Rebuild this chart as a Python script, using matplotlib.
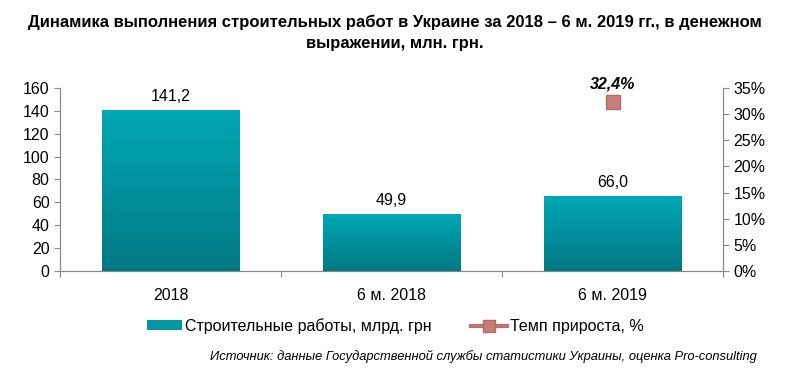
import matplotlib.pyplot as plt
import numpy as np
from matplotlib.patches import Patch
from matplotlib.lines import Line2D
from matplotlib.colors import LinearSegmentedColormap

plt.rcParams['font.family'] = ['Liberation Sans', 'DejaVu Sans']

categories = ['2018', '6 м. 2018', '6 м. 2019']
works = [141.2, 49.9, 66.0]
growth = [None, None, 32.4]

fig = plt.figure(figsize=(7.9, 3.71), dpi=100)
ax = fig.add_axes([60/790, 1-271/371, 663/790, 183/371])
ax2 = ax.twinx()

x = np.arange(len(categories))
bars = ax.bar(x, works, width=0.62, color='#0097A4', zorder=2)
# vertical gradient inside each bar
grad = np.linspace(0, 1, 256).reshape(-1, 1)
cmap = LinearSegmentedColormap.from_list('teal', ['#007983', '#00A8B6'])
for b in bars:
    bx, by, bw, bh = b.get_x(), b.get_y(), b.get_width(), b.get_height()
    im = ax.imshow(grad, extent=[bx, bx+bw, by, by+bh], origin='lower',
                   cmap=cmap, aspect='auto', zorder=3)
    im.set_clip_path(b)
for xi, v in zip(x, works):
    ax.text(xi, v + 5, f'{v:.1f}'.replace('.', ','), ha='center', va='bottom', fontsize=11.5)

ax.set_xlim(-0.5, 2.5)
ax.set_ylim(0, 160)
ax.set_yticks(range(0, 161, 20))
ax.set_xticks([-0.5, 0.5, 1.5, 2.5])
ax.set_xticks(x, minor=True)
ax.set_xticklabels([])
ax.set_xticklabels(categories, minor=True, fontsize=11.5)
ax.tick_params(axis='x', which='major', length=4, color='#888888')
ax.tick_params(axis='x', which='minor', length=0, pad=12)
ax.tick_params(axis='y', labelsize=11.5, color='#888888', length=4)
for s in ['top']:
    ax.spines[s].set_visible(False)
    ax2.spines[s].set_visible(False)
for s in ['left', 'right', 'bottom']:
    ax.spines[s].set_color('#888888')
    ax2.spines[s].set_color('#888888')

gx = [xi for xi, g in zip(x, growth) if g is not None]
gy = [g for g in growth if g is not None]
ax2.plot(gx, gy, marker='s', markersize=10, color='#C0736E', markerfacecolor='#C87E78',
         markeredgecolor='#B56A65', linestyle='-', lw=3, zorder=5)
for xi, g in zip(gx, gy):
    ax2.text(xi, g + 2.0, f'{g:.1f}%'.replace('.', ','), ha='center', va='bottom',
             fontsize=11.5, fontweight='bold', style='italic')
ax2.set_ylim(0, 35)
ax2.set_yticks(range(0, 36, 5))
ax2.set_yticklabels([f'{t}%' for t in range(0, 36, 5)])
ax2.tick_params(axis='y', labelsize=11.5, color='#888888', length=4)

fig.text(0.5, 0.96, 'Динамика выполнения строительных работ в Украине за 2018 – 6 м. 2019 гг., в денежном\nвыражении, млн. грн.',
         ha='center', va='top', fontsize=12, fontweight='bold', linespacing=1.45)

handles = [Patch(facecolor='#0097A4'),
           Line2D([0], [0], color='#C0736E', lw=3, marker='s', markersize=8,
                  markerfacecolor='#C87E78', markeredgecolor='#B56A65')]
fig.legend(handles, ['Строительные работы, млрд. грн', 'Темп прироста, %'],
           loc='center', bbox_to_anchor=(0.5, 1-326/371), ncol=2, frameon=False,
           fontsize=11.5, handlelength=2.2, handleheight=0.6, columnspacing=2.5, handletextpad=0.2)

fig.text(757/790, 1-356/371, 'Источник: данные Государственной службы статистики Украины, оценка Pro-consulting',
         ha='right', va='center', fontsize=9.3, style='italic')

fig.savefig('out.png', dpi=100)
